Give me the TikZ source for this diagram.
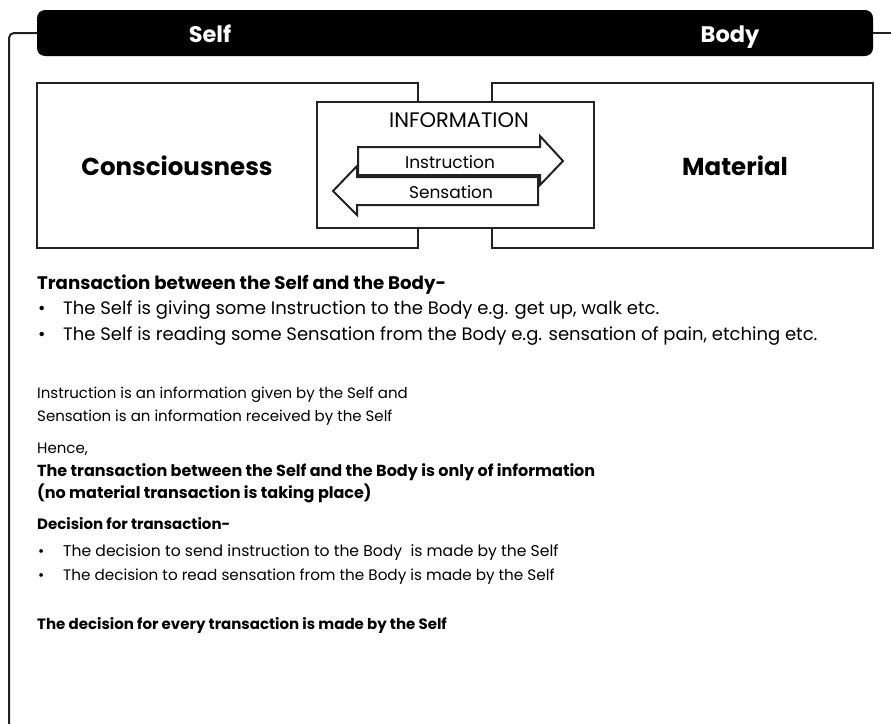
\documentclass[tikz,border=0pt]{standalone}
\usepackage{fontspec}
\setmainfont{Poppins}
\definecolor{ink}{HTML}{222222}
\begin{document}
\begin{tikzpicture}[x=1pt,y=-1pt,
  frameline/.style={draw=ink, line width=2pt},
  panel/.style={draw=ink, line width=2pt, fill=white},
  flow/.style={draw=ink, line width=2pt, fill=white, line join=miter},
  headtext/.style={text=white, font=\fontsize{22.5}{24}\bfseries\selectfont, anchor=base, inner sep=0pt},
  bigtext/.style={font=\fontsize{24.5}{28}\bfseries\selectfont, anchor=base, inner sep=0pt},
  label/.style={anchor=base, inner sep=0pt, font=\fontsize{17}{20}\selectfont},
  line/.style={anchor=mid west, inner sep=0pt, font=\fontsize{15}{18}\selectfont},
  boldline/.style={line, font=\fontsize{15}{18}\bfseries\selectfont},
  bigline/.style={line, font=\fontsize{18}{21}\selectfont},
  bigbold/.style={line, font=\fontsize{18.2}{21}\bfseries\selectfont},
  dot/.style={anchor=mid west, inner sep=0pt, font=\fontsize{15}{18}\selectfont}
]
\useasboundingbox (0,0) rectangle (891,723);

% outer frame behind the title bar
\draw[frameline, rounded corners=5pt] (40,33) -- (9,33) -- (9,726);
\draw[frameline] (870,33) -- (893,33);

% title bar
\fill[black, rounded corners=8pt] (37,10) rectangle (873,56);
\node[headtext] (self) at (210,42) {Self};
\node[headtext] (body) at (730,42) {Body};

% the two sides
\draw[panel] (37,83) rectangle (418,248);
\draw[panel] (492,83) rectangle (873,248);
\node[bigtext] (cons) at (177,175) {Consciousness};
\node[bigtext] (mat) at (735,175) {Material};

% information exchanged between them
\draw[panel] (317,102) rectangle (594,228);
\node[label, font=\fontsize{21}{24}\selectfont] (info) at (459,127.5) {INFORMATION};

\draw[flow] (358,147) -- (540,147) -- (540,136) -- (563,161) -- (540,185)
  -- (540,175) -- (358,175) -- cycle;
\draw[flow] (538,177) -- (538,205) -- (357,205) -- (357,215) -- (333,191)
  -- (357,166) -- (357,177) -- cycle;
\node[label] (instr) at (450,168) {Instruction};
\node[label] (sens) at (451,198) {Sensation};

% notes
\node[bigbold] (t1) at (37,287) {Transaction between the Self and the Body-};
\node[bigline] (b1) at (38,312) {\textbullet};
\node[bigline] (t2) at (63,312) {The Self is giving some Instruction to the Body e.g. get up, walk etc.};
\node[bigline] (b2) at (38,338) {\textbullet};
\node[bigline] (t3) at (63,338) {The Self is reading some Sensation from the Body e.g. sensation of pain, etching etc.};

\node[line] (t4) at (37,396) {Instruction is an information given by the Self and};
\node[line] (t5) at (37,419) {Sensation is an information received by the Self};

\node[line] (t6) at (37,451) {Hence,};
\node[boldline, font=\fontsize{16}{19}\bfseries\selectfont] (t7) at (37,474) {The transaction between the Self and the Body is only of information};
\node[boldline, font=\fontsize{16}{19}\bfseries\selectfont] (t8) at (37,496) {(no material transaction is taking place)};

\node[boldline] (t9) at (37,527) {Decision for transaction-};
\node[dot] (b3) at (38,554) {\textbullet};
\node[line, font=\fontsize{15.6}{18}\selectfont] (t10) at (63,554) {The decision to send instruction to the Body\ \ is made by the Self};
\node[dot] (b4) at (38,578) {\textbullet};
\node[line, font=\fontsize{15.2}{18}\selectfont] (t11) at (63,578) {The decision to read sensation from the Body is made by the Self};

\node[boldline] (t12) at (37,627) {The decision for every transaction is made by the Self};
\end{tikzpicture}
\end{document}
